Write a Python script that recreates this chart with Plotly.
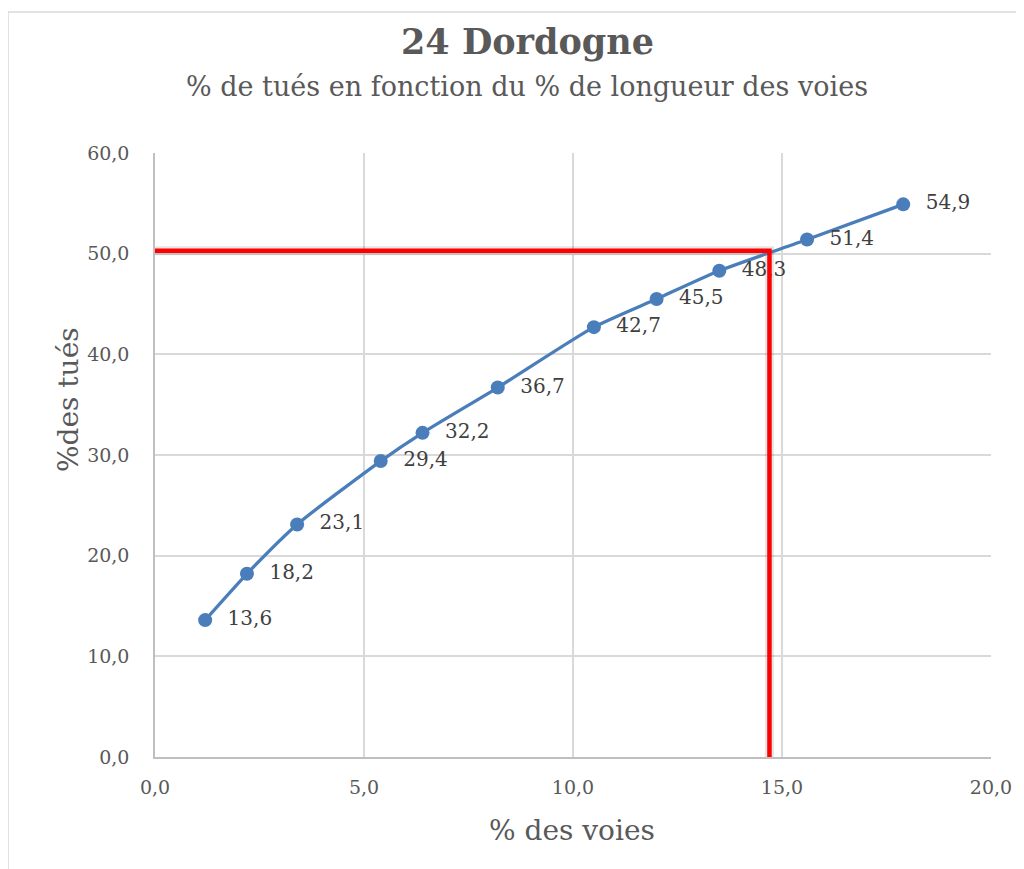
import plotly.graph_objects as go

# Data
pct_voies = [1.2, 2.2, 3.4, 5.4, 6.4, 8.2, 10.5, 12.0, 13.5, 15.6, 17.9]
pct_tues = [13.6, 18.2, 23.1, 29.4, 32.2, 36.7, 42.7, 45.5, 48.3, 51.4, 54.9]
ref_x = [0.0, 14.7, 14.7]
ref_y = [50.3, 50.3, 0.0]

FONT = "DejaVu Serif"
labels = ["  " + f"{v:.1f}".replace(".", ",") for v in pct_tues]

fig = go.Figure()
fig.add_trace(go.Scatter(
    x=ref_x, y=ref_y, mode="lines",
    line=dict(color="rgba(0,0,0,0.10)", width=9),
    showlegend=False, hoverinfo="skip", cliponaxis=False,
))
fig.add_trace(go.Scatter(
    x=pct_voies, y=pct_tues, mode="lines+markers+text",
    line=dict(color="#4a7ebb", width=3.3, shape="spline", smoothing=0.6),
    marker=dict(color="#4a7ebb", size=14),
    text=labels, textposition="middle right",
    textfont=dict(family=FONT, size=20, color="#404040"),
    cliponaxis=False, showlegend=False, hoverinfo="skip",
))
fig.add_trace(go.Scatter(
    x=ref_x, y=ref_y, mode="lines",
    line=dict(color="#ff0000", width=4.5),
    showlegend=False, hoverinfo="skip", cliponaxis=False,
))

# screen pixel geometry of the plot area (page has an 8px body offset)
OFF = 8
px0, pw = 155, 836
py0, ph = 757, 604
def pxx(x): return (x - px0) / pw
def pxy(y): return (py0 - y) / ph

def ann(text, x, y, size, angle=0):
    return dict(text=text, xref="paper", yref="paper", x=pxx(x), y=pxy(y),
                xanchor="center", yanchor="middle", showarrow=False, textangle=angle,
                font=dict(size=size, color="#595959", family=FONT))

fig.update_layout(
    width=1024, height=869,
    margin=dict(l=px0 - OFF, r=1024 + OFF - (px0 + pw), t=(py0 - ph) - OFF, b=869 + OFF - py0),
    paper_bgcolor="white", plot_bgcolor="white",
    separators=", ",
    font=dict(family=FONT, color="#595959"),
    xaxis=dict(range=[0, 20], dtick=5, tickformat=".1f", showgrid=True,
               gridcolor="#d9d9d9", gridwidth=1.5, zeroline=False,
               showline=True, linecolor="#bfbfbf", linewidth=1.5,
               ticks="outside", ticklen=12, tickcolor="rgba(0,0,0,0)",
               tickfont=dict(size=19, color="#595959", family=FONT)),
    yaxis=dict(range=[0, 60], dtick=10, tickformat=".1f", showgrid=True,
               gridcolor="#d9d9d9", gridwidth=1.5, zeroline=False,
               showline=True, linecolor="#bfbfbf", linewidth=1.5,
               ticks="outside", ticklen=20, tickcolor="rgba(0,0,0,0)",
               tickfont=dict(size=19, color="#595959", family=FONT)),
    shapes=[dict(type="rect", xref="paper", yref="paper",
                 x0=pxx(8), x1=pxx(1100), y0=pxy(1000), y1=pxy(12),
                 line=dict(color="#d9d9d9", width=1.5), layer="below")],
    annotations=[
        ann("<b>24 Dordogne</b>", 527, 42, 35),
        ann("% de tués en fonction du % de longueur des voies", 527, 86, 27),
        ann("% des voies", 572, 830, 28),
        ann("%des tués", 68, 400, 28, -90),
    ],
)

fig.write_html("out.html")
